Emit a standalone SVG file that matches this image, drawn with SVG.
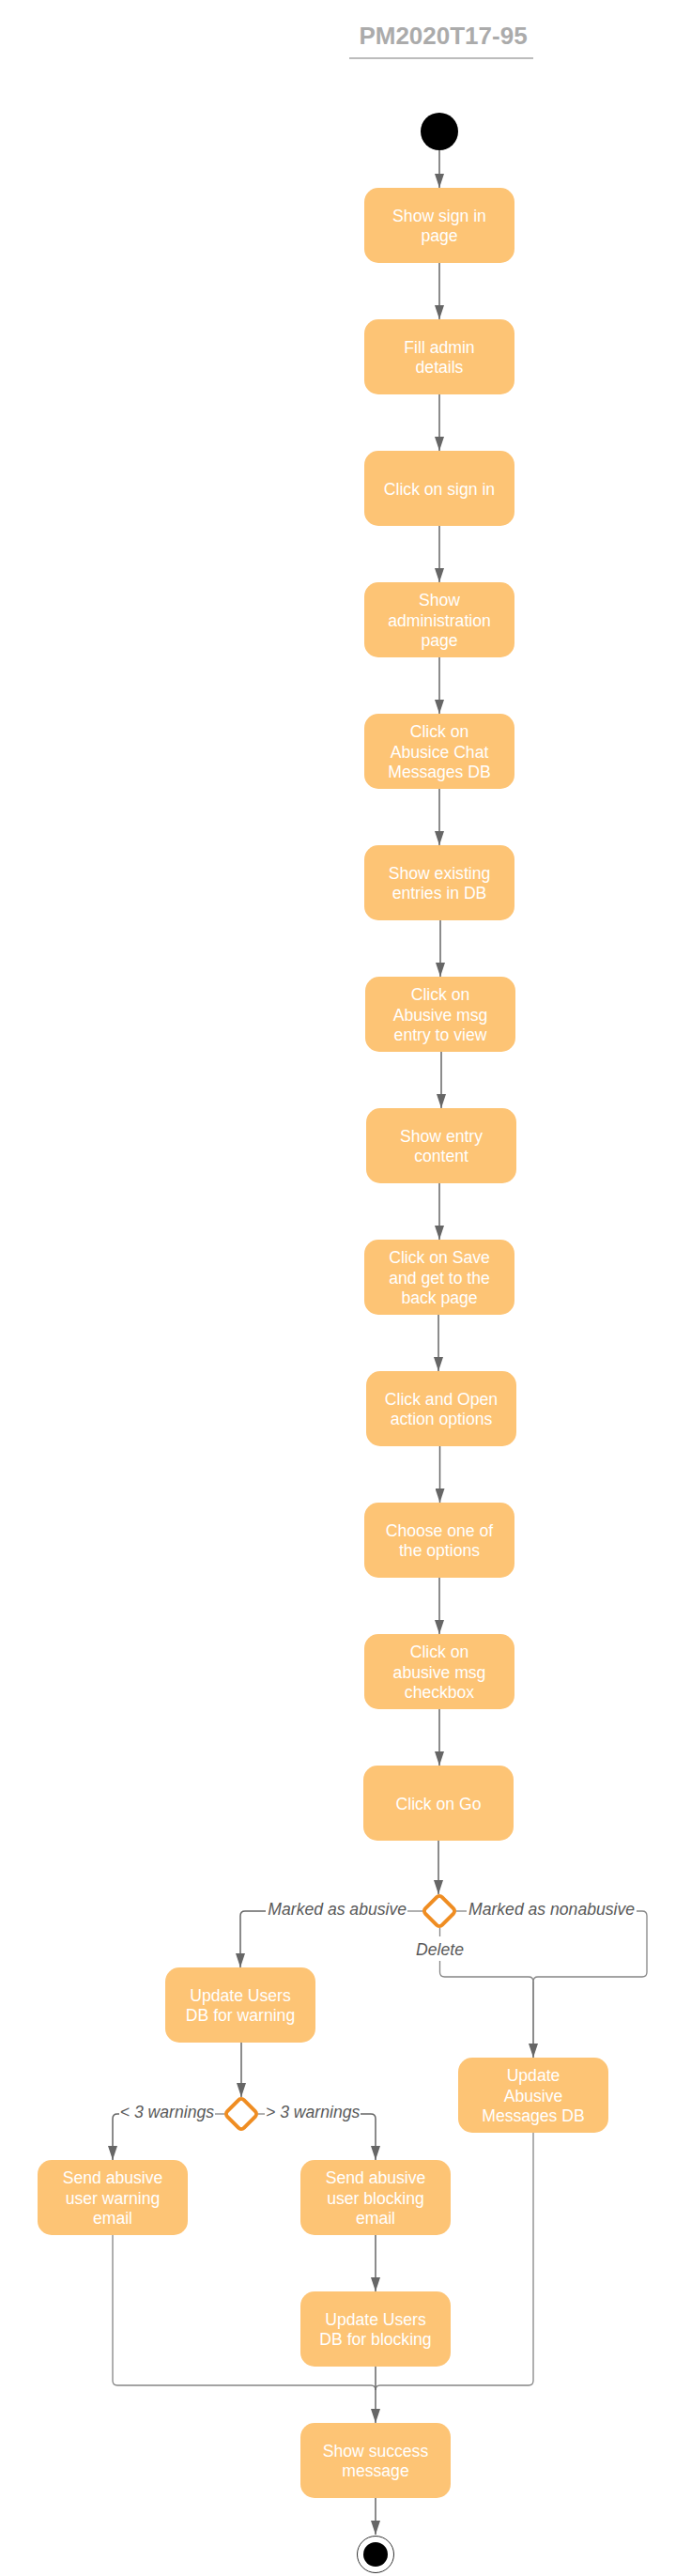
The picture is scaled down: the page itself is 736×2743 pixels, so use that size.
<svg xmlns="http://www.w3.org/2000/svg" width="736" height="2743" viewBox="0 0 736 2743">
<style>
.box{fill:#fdc475;}
.bt{font-family:"Liberation Sans",Arial,sans-serif;font-size:17.6px;fill:#ffffff;text-anchor:middle;}
.lbl{font-family:"Liberation Sans",Arial,sans-serif;font-size:17.6px;font-style:italic;fill:#595959;}
.c{fill:none;stroke:#666666;stroke-width:1.5;}
.cb{fill:none;stroke:#858585;stroke-width:1.3;}
.dia{fill:#ffffff;stroke:#ef8d22;stroke-width:4;}
</style>
<defs>
<marker id="arr" viewBox="0 0 15 10" refX="15" refY="5" markerWidth="15" markerHeight="10" markerUnits="userSpaceOnUse" orient="auto">
<path d="M0,0 L15,5 L0,10 z" fill="#666666"/>
</marker>
</defs>
<rect width="736" height="2743" fill="#ffffff"/>
<g id="title">
<text x="472" y="47" font-family="Liberation Sans,Arial,sans-serif" font-size="26" font-weight="bold" fill="#ababab" text-anchor="middle">PM2020T17-95</text>
<line x1="372" y1="62" x2="568" y2="62" stroke="#a6a6a6" stroke-width="1.5"/>
</g>
<g id="connectors">
<path class="c" d="M468,160 V200" marker-end="url(#arr)"/>
<path class="c" d="M468,280 V340" marker-end="url(#arr)"/>
<path class="c" d="M468,420 V480" marker-end="url(#arr)"/>
<path class="c" d="M468,560 V620" marker-end="url(#arr)"/>
<path class="c" d="M468,700 V760" marker-end="url(#arr)"/>
<path class="c" d="M468,840 V900" marker-end="url(#arr)"/>
<path class="c" d="M469,980 V1040" marker-end="url(#arr)"/>
<path class="c" d="M470,1120 V1180" marker-end="url(#arr)"/>
<path class="c" d="M468,1260 V1320" marker-end="url(#arr)"/>
<path class="c" d="M467,1400 V1460" marker-end="url(#arr)"/>
<path class="c" d="M468.5,1540 V1600" marker-end="url(#arr)"/>
<path class="c" d="M468,1680 V1740" marker-end="url(#arr)"/>
<path class="c" d="M468,1820 V1880" marker-end="url(#arr)"/>
<path class="c" d="M467,1960 V2017" marker-end="url(#arr)"/>
<path class="cb" d="M450,2035 H434"/>
<path class="c" d="M283,2035 H261 Q256,2035 256,2040 V2095" marker-end="url(#arr)"/>
<path class="cb" d="M486,2035 H497"/>
<path class="cb" d="M678,2035 H684 Q689,2035 689,2040 V2100 Q689,2105 684,2105 H573 Q568,2105 568,2110"/>
<path class="cb" d="M468.5,2053 V2062"/>
<path class="cb" d="M468.5,2088 V2100 Q468.5,2105 473.5,2105 H563 Q568,2105 568,2110"/>
<path class="c" d="M568,2110 V2191" marker-end="url(#arr)"/>
<path class="c" d="M257,2175 V2233" marker-end="url(#arr)"/>
<path class="cb" d="M239,2251 H229"/>
<path class="c" d="M127,2251 H125 Q120,2251 120,2256 V2300" marker-end="url(#arr)"/>
<path class="cb" d="M275,2251 H282"/>
<path class="c" d="M384,2251 H395 Q400,2251 400,2256 V2300" marker-end="url(#arr)"/>
<path class="c" d="M400,2380 V2440" marker-end="url(#arr)"/>
<path class="cb" d="M120,2380 V2535 Q120,2540 125,2540 H395 Q400,2540 400,2545"/>
<path class="cb" d="M568,2271 V2535 Q568,2540 563,2540 H405 Q400,2540 400,2545"/>
<path class="c" d="M400,2520 V2580" marker-end="url(#arr)"/>
<path class="c" d="M400,2660 V2699" marker-end="url(#arr)"/>
<text class="lbl" x="433" y="2039" text-anchor="end">Marked as abusive</text>
<text class="lbl" x="499" y="2039">Marked as nonabusive</text>
<text class="lbl" x="468.5" y="2082" text-anchor="middle">Delete</text>
<text class="lbl" x="228" y="2255" text-anchor="end">&lt; 3 warnings</text>
<text class="lbl" x="283" y="2255">&gt; 3 warnings</text>
</g>
<g id="start"><circle cx="468" cy="140" r="20" fill="#000000"/></g>
<g id="n1"><rect class="box" x="388" y="200" width="160" height="80" rx="15"/><text class="bt" x="468" y="235.75">Show sign in</text><text class="bt" x="468" y="257.25">page</text></g>
<g id="n2"><rect class="box" x="388" y="340" width="160" height="80" rx="15"/><text class="bt" x="468" y="375.75">Fill admin</text><text class="bt" x="468" y="397.25">details</text></g>
<g id="n3"><rect class="box" x="388" y="480" width="160" height="80" rx="15"/><text class="bt" x="468" y="526.5">Click on sign in</text></g>
<g id="n4"><rect class="box" x="388" y="620" width="160" height="80" rx="15"/><text class="bt" x="468" y="645">Show</text><text class="bt" x="468" y="666.5">administration</text><text class="bt" x="468" y="688">page</text></g>
<g id="n5"><rect class="box" x="388" y="760" width="160" height="80" rx="15"/><text class="bt" x="468" y="785">Click on</text><text class="bt" x="468" y="806.5">Abusice Chat</text><text class="bt" x="468" y="828">Messages DB</text></g>
<g id="n6"><rect class="box" x="388" y="900" width="160" height="80" rx="15"/><text class="bt" x="468" y="935.75">Show existing</text><text class="bt" x="468" y="957.25">entries in DB</text></g>
<g id="n7"><rect class="box" x="389" y="1040" width="160" height="80" rx="15"/><text class="bt" x="469" y="1065">Click on</text><text class="bt" x="469" y="1086.5">Abusive msg</text><text class="bt" x="469" y="1108">entry to view</text></g>
<g id="n8"><rect class="box" x="390" y="1180" width="160" height="80" rx="15"/><text class="bt" x="470" y="1215.75">Show entry</text><text class="bt" x="470" y="1237.25">content</text></g>
<g id="n9"><rect class="box" x="388" y="1320" width="160" height="80" rx="15"/><text class="bt" x="468" y="1345">Click on Save</text><text class="bt" x="468" y="1366.5">and get to the</text><text class="bt" x="468" y="1388">back page</text></g>
<g id="n10"><rect class="box" x="390" y="1460" width="160" height="80" rx="15"/><text class="bt" x="470" y="1495.75">Click and Open</text><text class="bt" x="470" y="1517.25">action options</text></g>
<g id="n11"><rect class="box" x="388" y="1600" width="160" height="80" rx="15"/><text class="bt" x="468" y="1635.75">Choose one of</text><text class="bt" x="468" y="1657.25">the options</text></g>
<g id="n12"><rect class="box" x="388" y="1740" width="160" height="80" rx="15"/><text class="bt" x="468" y="1765">Click on</text><text class="bt" x="468" y="1786.5">abusive msg</text><text class="bt" x="468" y="1808">checkbox</text></g>
<g id="n13"><rect class="box" x="387" y="1880" width="160" height="80" rx="15"/><text class="bt" x="467" y="1926.5">Click on Go</text></g>
<g id="d1"><rect class="dia" x="455.5" y="2022.5" width="25" height="25" rx="4" transform="rotate(45 468 2035)"/></g>
<g id="n14"><rect class="box" x="176" y="2095" width="160" height="80" rx="15"/><text class="bt" x="256" y="2130.75">Update Users</text><text class="bt" x="256" y="2152.25">DB for warning</text></g>
<g id="n15"><rect class="box" x="488" y="2191" width="160" height="80" rx="15"/><text class="bt" x="568" y="2216">Update</text><text class="bt" x="568" y="2237.5">Abusive</text><text class="bt" x="568" y="2259">Messages DB</text></g>
<g id="d2"><rect class="dia" x="244.5" y="2238.5" width="25" height="25" rx="4" transform="rotate(45 257 2251)"/></g>
<g id="n16"><rect class="box" x="40" y="2300" width="160" height="80" rx="15"/><text class="bt" x="120" y="2325">Send abusive</text><text class="bt" x="120" y="2346.5">user warning</text><text class="bt" x="120" y="2368">email</text></g>
<g id="n17"><rect class="box" x="320" y="2300" width="160" height="80" rx="15"/><text class="bt" x="400" y="2325">Send abusive</text><text class="bt" x="400" y="2346.5">user blocking</text><text class="bt" x="400" y="2368">email</text></g>
<g id="n18"><rect class="box" x="320" y="2440" width="160" height="80" rx="15"/><text class="bt" x="400" y="2475.75">Update Users</text><text class="bt" x="400" y="2497.25">DB for blocking</text></g>
<g id="n19"><rect class="box" x="320" y="2580" width="160" height="80" rx="15"/><text class="bt" x="400" y="2615.75">Show success</text><text class="bt" x="400" y="2637.25">message</text></g>
<g id="end"><circle cx="400" cy="2720" r="19.5" fill="#ffffff" stroke="#333333" stroke-width="1"/><circle cx="400" cy="2720" r="13" fill="#000000"/></g>
</svg>
